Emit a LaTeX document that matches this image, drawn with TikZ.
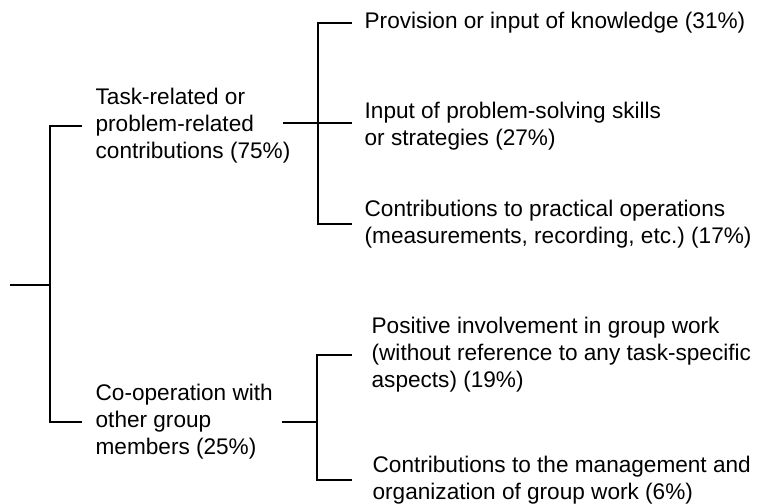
\documentclass[tikz,border=0pt]{standalone}
\usepackage{fontspec}
\setmainfont{Liberation Sans}
\frenchspacing
\begin{document}
\begin{tikzpicture}[x=1pt,y=-1pt,line width=1.3pt,
    branch/.style={anchor=west,align=left,inner ysep=0pt,inner xsep=13pt,
        font=\fontsize{22.6}{27}\selectfont},
    leaf/.style={branch,inner xsep=12pt}]
    \useasboundingbox (0,0) rectangle (759,503);

    % spine points
    \coordinate (root) at (10,285);
    \coordinate (s0) at (50,285);
    \coordinate (t-out) at (283,123);
    \coordinate (s1) at (318,123);
    \coordinate (c-out) at (282,422);
    \coordinate (s2) at (317,422);

    % first level
    \node[branch] (task) at (82,126) {Task-related or\\problem-related\\contributions (75\%)};
    \node[branch] (coop) at (82,422) {Co-operation with\\other group\\members (25\%)};

    % task side
    \node[leaf] (know) at (352,23) {Provision or input of knowledge (31\%)};
    \node[leaf] (skills) at (352,126) {Input of problem-solving skills\\or strategies (27\%)};
    \node[leaf] (practical) at (352,224) {Contributions to practical operations\\(measurements, recording, etc.) (17\%)};

    % co-operation side
    \node[leaf,inner xsep=19pt] (positive) at (352,355) {Positive involvement in group work\\(without reference to any task-specific\\aspects) (19\%)};
    \node[leaf,inner xsep=20pt] (manage) at (352,480) {Contributions to the management and\\organization of group work (6\%)};

    \draw (root) -- (s0);
    \draw (task.west) -| (s0) |- (coop.west);

    \draw (t-out) -- (s1);
    \draw (know.west) -| (s1) |- (practical.west);
    \draw (s1) -- (skills.west |- s1);

    \draw (c-out) -- (s2);
    \draw (positive.west) -| (s2) |- (manage.west);
\end{tikzpicture}
\end{document}
